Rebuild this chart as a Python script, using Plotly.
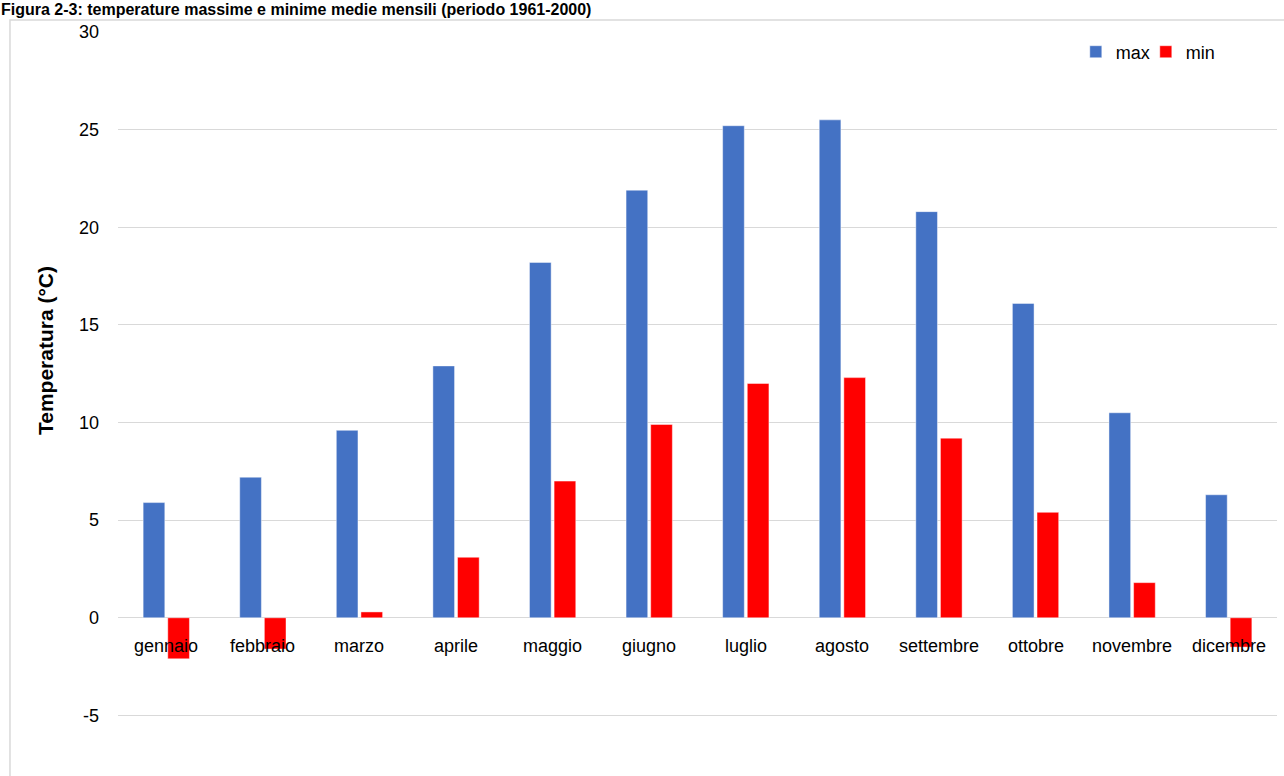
import plotly.graph_objects as go

# Monthly mean temperatures (°C)
mesi = ["gennaio", "febbraio", "marzo", "aprile", "maggio", "giugno",
        "luglio", "agosto", "settembre", "ottobre", "novembre", "dicembre"]
t_max = [5.9, 7.2, 9.6, 12.9, 18.2, 21.9, 25.2, 25.5, 20.8, 16.1, 10.5, 6.3]
t_min = [-2.1, -1.6, 0.3, 3.1, 7.0, 9.9, 12.0, 12.3, 9.2, 5.4, 1.8, -1.5]
y_ticks = [-5, 0, 5, 10, 15, 20, 25, 30]
y_ticktext = ["-5", "0", "5", "10", "15", "20", "25", "30"]

FONT = "Liberation Sans, Arial, sans-serif"
GRID = "#d9d9d9"

fig = go.Figure()
fig.add_trace(go.Bar(x=mesi, y=t_max, name="max",
                     marker=dict(color="#4472C4",
                                 line=dict(color="rgba(255,255,255,0.45)", width=1))))
fig.add_trace(go.Bar(x=mesi, y=t_min, name="min",
                     marker=dict(color="#FF0000",
                                 line=dict(color="rgba(255,255,255,0.45)", width=1))))

# month names sit just under the zero line
for m in mesi:
    fig.add_annotation(x=m, y=0, xref="x", yref="y", text=m, showarrow=False,
                       yanchor="middle", yshift=-28,
                       font=dict(family=FONT, size=18, color="#000000"))

# figure caption at the very top
fig.add_annotation(x=-0.1018, y=1.0431, xref="paper", yref="paper",
                   xanchor="left", yanchor="top", showarrow=False, borderpad=0,
                   text="<b>Figura 2-3: temperature massime e minime medie mensili (periodo 1961-2000)</b>",
                   font=dict(family=FONT, size=16, color="#000000"))

# y-axis title
fig.add_annotation(x=-0.063, y=0.5714, xref="paper", yref="paper",
                   xanchor="center", yanchor="middle", showarrow=False,
                   textangle=-90, text="<b>Temperatura (°C)</b>",
                   font=dict(family=FONT, size=21, color="#000000"))

# chart frame
fig.add_shape(type="rect", xref="paper", yref="paper",
              x0=-0.0932, x1=1.2, y0=-0.2, y1=1.0162,
              line=dict(color=GRID, width=1.5), layer="below")

fig.update_layout(
    width=1284, height=776,
    margin=dict(l=118, r=7, t=32, b=2),
    paper_bgcolor="white", plot_bgcolor="white",
    font=dict(family=FONT, size=18, color="#000000"),
    barmode="group", bargap=0.49, bargroupgap=0.12,
    showlegend=True,
    legend=dict(orientation="h", x=0.8264, xanchor="left", y=0.973, yanchor="middle",
                font=dict(family=FONT, size=18), bgcolor="rgba(0,0,0,0)",
                itemwidth=30, entrywidth=25, traceorder="normal"),
    xaxis=dict(showticklabels=False, showgrid=False, showline=False, ticks=""),
    yaxis=dict(range=[-8, 30], tickvals=y_ticks, ticktext=y_ticktext,
               showgrid=True, gridcolor=GRID,
               gridwidth=1, zeroline=True, zerolinecolor=GRID, zerolinewidth=1,
               showline=False, ticks="", ticklabelstandoff=18,
               tickfont=dict(family=FONT, size=18)),
)

fig.write_html("out.html")
